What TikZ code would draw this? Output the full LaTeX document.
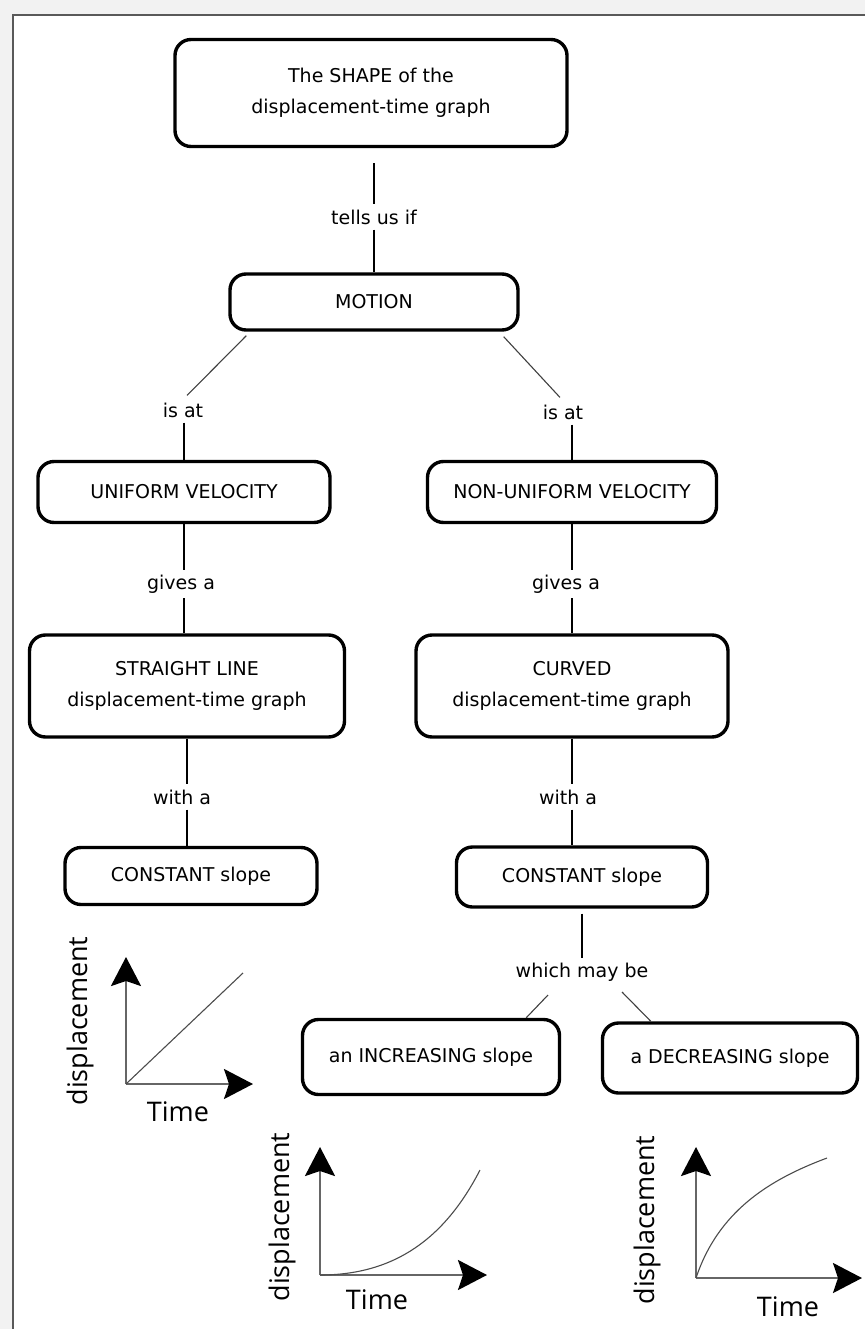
\documentclass[tikz,border=0pt]{standalone}
\usepackage{fontspec}
\setmainfont{DejaVu Sans}
\newfontfamily\graphfont{Open Sans}
\usetikzlibrary{arrows.meta,calc}
\begin{document}
\begin{tikzpicture}[x=1pt,y=-1pt,
  box/.style={draw, line width=3.4pt, rounded corners=16pt, align=center,
    font=\fontsize{19}{31}\selectfont, inner sep=0pt},
  lab/.style={font=\fontsize{19}{22}\selectfont, inner sep=5pt},
  conn/.style={line width=1.7pt},
  diag/.style={line width=1.1pt, black!75},
  axis/.style={line width=2.4pt, black!60,
    -{Stealth[length=29pt,width=30pt,inset=5pt,color=black]}},
  curve/.style={line width=1.1pt, black!70},
  glab/.style={font=\graphfont\fontsize{27}{30}\selectfont, inner sep=0pt}
]
\useasboundingbox (0,0) rectangle (865,1329);
% frame
\fill[gray!10] (0,0) rectangle (865,1329);
\fill[white] (13,15) rectangle (865,1329);
\draw[gray!70!black, line width=1.5pt] (13,1329) -- (13,15) -- (865,15);

% boxes
\node[box, minimum width=392pt, minimum height=107pt] (top) at (371,93)
  {The SHAPE of the\\displacement-time graph};
\node[box, minimum width=288pt, minimum height=56pt] (motion) at (374,302) {MOTION};
\node[box, minimum width=292pt, minimum height=61pt] (uv) at (184,492) {UNIFORM VELOCITY};
\node[box, minimum width=289pt, minimum height=61pt] (nuv) at (572,492) {NON-UNIFORM VELOCITY};
\node[box, minimum width=315pt, minimum height=102pt] (sl) at (187,686)
  {STRAIGHT LINE\\displacement-time graph};
\node[box, minimum width=312pt, minimum height=102pt] (cv) at (572,686)
  {CURVED\\displacement-time graph};
\node[box, minimum width=252pt, minimum height=57pt] (cs1) at (191,876) {CONSTANT slope};
\node[box, minimum width=251pt, minimum height=60pt] (cs2) at (582,877) {CONSTANT slope};
\node[box, minimum width=257pt, minimum height=75pt] (inc) at (431,1057) {an INCREASING slope};
\node[box, minimum width=255pt, minimum height=70pt] (dec) at (730,1058) {a DECREASING slope};

% connector labels
\node[lab] (l1) at (374,217) {tells us if};
\node[lab] (ia1) at (183,410) {is at};
\node[lab] (ia2) at (563,412) {is at};
\node[lab] (ga1) at (181,584) {gives a};
\node[lab] (ga2) at (566,584) {gives a};
\node[lab] (wa1) at (182,797) {with a};
\node[lab] (wa2) at (568,797) {with a};
\node[lab] (wm) at (582,972) {which may be};

% connectors
\draw[conn, shorten <=15pt] (top.south -| l1) -- (l1.north);
\draw[conn] (l1.south) -- (motion.north -| l1);
\draw[diag] ($(motion.south west)+(18,4)$) -- ($(ia1.north)+(4,-2)$);
\draw[diag] ($(motion.south east)+(-16,5)$) -- ($(ia2.north)+(-3,-2)$);
\draw[conn] (ia1.south -| uv) -- (uv.north);
\draw[conn] (ia2.south -| nuv) -- (nuv.north);
\draw[conn] (uv.south) -- (uv.south |- ga1.north);
\draw[conn] (uv.south |- ga1.south) -- (uv.south |- sl.north);
\draw[conn] (nuv.south) -- (nuv.south |- ga2.north);
\draw[conn] (nuv.south |- ga2.south) -- (nuv.south |- cv.north);
\draw[conn] (sl.south) -- (sl.south |- wa1.north);
\draw[conn] (sl.south |- wa1.south) -- (sl.south |- cs1.north);
\draw[conn] (cv.south) -- (cv.south |- wa2.north);
\draw[conn] (cv.south |- wa2.south) -- (cv.south |- cs2.north);
\draw[conn, shorten <=5pt] (cs2.south) -- (cs2.south |- wm.north);
\draw[diag] ($(wm.center)+(-34,23)$) -- ($(inc.north east)+(-35,0)$);
\draw[diag] ($(wm.center)+(40,20)$) -- ($(dec.north west)+(50,0)$);

% graph 1: straight line
\draw[axis] (126,1084) -- (126,957);
\draw[axis] (126,1084) -- (253,1084);
\draw[curve] (126,1084) -- (243,973);
\node[glab, rotate=90] (g1y) at (80,1021) {displacement};
\node[glab] (g1x) at (178,1112) {Time};

% graph 2: increasing slope
\draw[axis] (320,1275) -- (320,1147);
\draw[axis] (320,1275) -- (487,1275);
\draw[curve] (320,1275) .. controls (395,1275) and (445,1238) .. (480,1170);
\node[glab, rotate=90] (g2y) at (282,1217) {displacement};
\node[glab] (g2x) at (377,1300) {Time};

% graph 3: decreasing slope
\draw[axis] (696,1278) -- (696,1147);
\draw[axis] (696,1278) -- (862,1278);
\draw[curve] (696,1278) .. controls (718,1212) and (768,1180) .. (827,1158);
\node[glab, rotate=90] (g3y) at (647,1220) {displacement};
\node[glab] (g3x) at (788,1307) {Time};
\end{tikzpicture}
\end{document}
